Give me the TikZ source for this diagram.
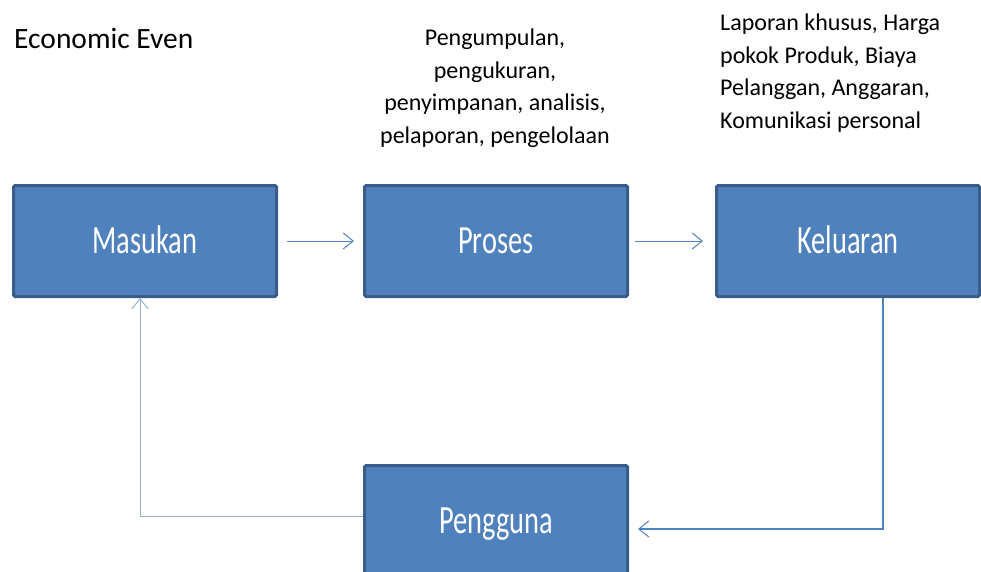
\documentclass[tikz,border=0pt]{standalone}
\usepackage{fontspec}
\setmainfont{Carlito}
\newfontfamily\boxfont[FakeStretch=0.71]{Carlito}
\usetikzlibrary{arrows.meta,calc}
\definecolor{boxfill}{HTML}{4F81BD}
\definecolor{boxline}{HTML}{385D8A}
\definecolor{lineblue}{HTML}{4F81BD}
\definecolor{lightblue}{HTML}{95B3D7}
\tikzset{
  procbox/.style={draw=boxline, fill=boxfill, line width=3pt, rounded corners=1.5pt,
    minimum width=263pt, minimum height=111pt, inner sep=0pt,
    text=white, font=\boxfont\fontsize{40}{48}\selectfont,
    text height=25.8pt, text depth=0pt},
  note/.style={font=\fontsize{24}{32.5}\selectfont, inner sep=0pt},
  flow/.style={draw=lineblue, line width=1pt,
    -{Straight Barb[length=10pt,width=16pt,line width=1pt]}},
}
\begin{document}
\begin{tikzpicture}[x=1pt,y=-1pt]
\useasboundingbox (0,0) rectangle (981,571);
\clip (0,0) rectangle (981,571);
\node[procbox] (masukan) at (145,241) {Masukan};
\node[procbox] (proses) at (496,241) {Proses};
\node[procbox] (keluaran) at (848,241) {Keluaran};
\node[procbox] (pengguna) at (496,521) {Pengguna};
\node[anchor=base west, font=\fontsize{29.5}{32}\selectfont, inner sep=0pt] (title) at (14,48) {Economic Even};
\node[note, align=center] (proctext) at (495,88) {Pengumpulan,\\pengukuran,\\penyimpanan, analisis,\\pelaporan, pengelolaan};
\node[note, align=left, anchor=west] (outtext) at (720,73) {Laporan khusus, Harga\\pokok Produk, Biaya\\Pelanggan, Anggaran,\\Komunikasi personal};
\draw[flow, shorten <=9pt, shorten >=9pt] (masukan.east) -- (proses.west);
\draw[flow, shorten <=6pt, shorten >=12pt] (proses.east) -- (keluaran.west);
\coordinate (kdown) at ($(keluaran.south)+(35,0)$);
\coordinate (kcorner) at (883,529);
\draw[flow, line width=1.6pt, shorten >=9pt] (kdown) -- (kcorner) -- (pengguna.east |- kcorner);
\coordinate (pleft) at (pengguna.west |- 0,516);
\coordinate (mcorner) at (140,516);
\draw[flow, draw=lightblue, line width=1pt] (pleft) -- (mcorner) -- (masukan.south -| mcorner);
\end{tikzpicture}
\end{document}
